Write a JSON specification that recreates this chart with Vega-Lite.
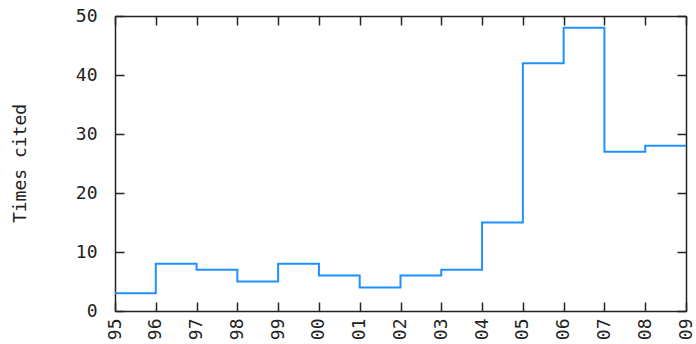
{
  "$schema": "https://vega.github.io/schema/vega-lite/v6.json",
  "width": 571,
  "height": 295,
  "autosize": {"type": "none"},
  "padding": {"left": 115, "top": 16, "right": 10, "bottom": 33},
  "background": "white",
  "config": {
    "view": {"stroke": null},
    "axis": {
      "grid": false,
      "domainColor": "#222222",
      "domainWidth": 1.5,
      "tickColor": "#222222",
      "tickWidth": 1.5,
      "tickSize": -9,
      "labelFont": "DejaVu Sans Mono",
      "labelFontSize": 18,
      "labelColor": "#222222",
      "titleFont": "DejaVu Sans Mono",
      "titleFontSize": 18,
      "titleFontWeight": "normal",
      "titleColor": "#222222"
    }
  },
  "data": {
    "values": [
      {"year": 1995, "cites": 3},
      {"year": 1996, "cites": 8},
      {"year": 1997, "cites": 7},
      {"year": 1998, "cites": 5},
      {"year": 1999, "cites": 8},
      {"year": 2000, "cites": 6},
      {"year": 2001, "cites": 4},
      {"year": 2002, "cites": 6},
      {"year": 2003, "cites": 7},
      {"year": 2004, "cites": 15},
      {"year": 2005, "cites": 42},
      {"year": 2006, "cites": 48},
      {"year": 2007, "cites": 27},
      {"year": 2008, "cites": 28},
      {"year": 2009, "cites": 28}
    ]
  },
  "layer": [
    {
      "mark": {"type": "line", "interpolate": "step-after", "color": "#1e90ff", "strokeWidth": 2},
      "encoding": {
        "x": {
          "field": "year", "type": "quantitative",
          "scale": {"domain": [1995, 2009], "nice": false, "zero": false},
          "axis": {"title": null, "values": [1995,1996,1997,1998,1999,2000,2001,2002,2003,2004,2005,2006,2007,2008,2009], "format": "d", "labelExpr": "substring(datum.label, 2)", "labelAngle": -90, "labelPadding": 16, "labelAlign": "right", "labelBaseline": "middle", "labelOverlap": false, "labelFlush": false}
        },
        "y": {
          "field": "cites", "type": "quantitative",
          "scale": {"domain": [0, 50], "nice": false},
          "axis": {"title": "Times cited", "values": [0,10,20,30,40,50], "labelPadding": 27, "titleX": -95, "titleY": 147, "titleBaseline": "middle", "titleAngle": -90, "labelFlush": false}
        }
      }
    },
    {
      "mark": {"type": "line", "opacity": 0},
      "encoding": {
        "x": {
          "field": "year", "type": "quantitative",
          "scale": {"domain": [1995, 2009], "nice": false, "zero": false},
          "axis": {"orient": "top", "title": null, "labels": false, "values": [1995,1996,1997,1998,1999,2000,2001,2002,2003,2004,2005,2006,2007,2008,2009]}
        },
        "y": {
          "field": "cites", "type": "quantitative",
          "scale": {"domain": [0, 50], "nice": false},
          "axis": {"orient": "right", "title": null, "labels": false, "values": [0,10,20,30,40,50]}
        }
      }
    }
  ],
  "resolve": {"axis": {"x": "independent", "y": "independent"}}
}
